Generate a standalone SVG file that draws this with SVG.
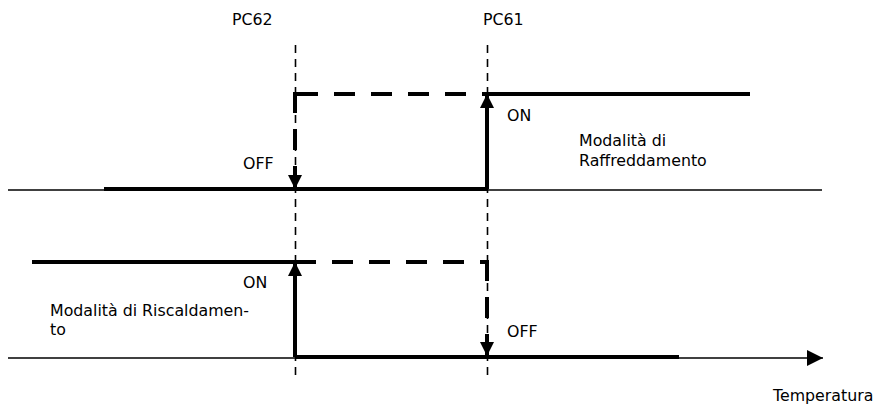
<svg xmlns="http://www.w3.org/2000/svg" width="877" height="405" viewBox="0 0 877 405">
<style>
text{font-family:"DejaVu Sans",Verdana,sans-serif;font-size:15.8px;fill:#000}
.thin{stroke:#000;stroke-width:1.5;fill:none}
.guide{stroke:#000;stroke-width:1.6;stroke-dasharray:8,6;fill:none}
.thick{stroke:#000;stroke-width:4;fill:none}
.thickd{stroke:#000;stroke-width:4;stroke-dasharray:21,16;fill:none}
</style>
<defs>
<marker id="ah" viewBox="0 0 14 14" refX="14" refY="7" markerWidth="15" markerHeight="14" orient="auto" markerUnits="userSpaceOnUse"><path d="M0,0 L14,7 L0,14 Z" fill="#000"/></marker>
<marker id="axis" viewBox="0 0 16 16" refX="16" refY="8" markerWidth="16" markerHeight="16" orient="auto" markerUnits="userSpaceOnUse"><path d="M0,0 L16,8 L0,16 Z" fill="#000"/></marker>
</defs>
<g id="guides">
<line class="guide" x1="295.5" y1="45" x2="295.5" y2="380"/>
<line class="guide" x1="487.5" y1="45" x2="487.5" y2="380"/>
</g>
<g id="axes">
<line class="thin" x1="8" y1="190" x2="822" y2="190"/>
<line class="thin" x1="8" y1="358" x2="823" y2="358" marker-end="url(#axis)"/>
</g>
<g id="connectors">
<line class="thick" x1="104" y1="189" x2="487" y2="189"/>
<line class="thick" x1="487" y1="94" x2="750" y2="94"/>
<line class="thickd" x1="297" y1="94" x2="487" y2="94"/>
<line class="thick" x1="487" y1="189" x2="487" y2="94" marker-end="url(#ah)"/>
<line class="thickd" x1="295" y1="92" x2="295" y2="189" marker-end="url(#ah)"/>
<line class="thick" x1="32" y1="262" x2="295" y2="262"/>
<line class="thickd" x1="295" y1="262" x2="487" y2="262"/>
<line class="thick" x1="295" y1="357" x2="295" y2="262" marker-end="url(#ah)"/>
<line class="thickd" x1="487" y1="260" x2="487" y2="356" marker-end="url(#ah)"/>
<line class="thick" x1="295" y1="357" x2="679" y2="357"/>
</g>
<g id="labels">
<text x="232" y="25">PC62</text>
<text x="483" y="25">PC61</text>
<text x="507" y="121">ON</text>
<text x="579" y="146">Modalità di</text>
<text x="579" y="166">Raffreddamento</text>
<text x="243" y="169">OFF</text>
<text x="243" y="288">ON</text>
<text x="50" y="316">Modalità di Riscaldamen-</text>
<text x="50" y="335">to</text>
<text x="507" y="337">OFF</text>
<text x="773" y="401">Temperatura</text>
</g>
</svg>
